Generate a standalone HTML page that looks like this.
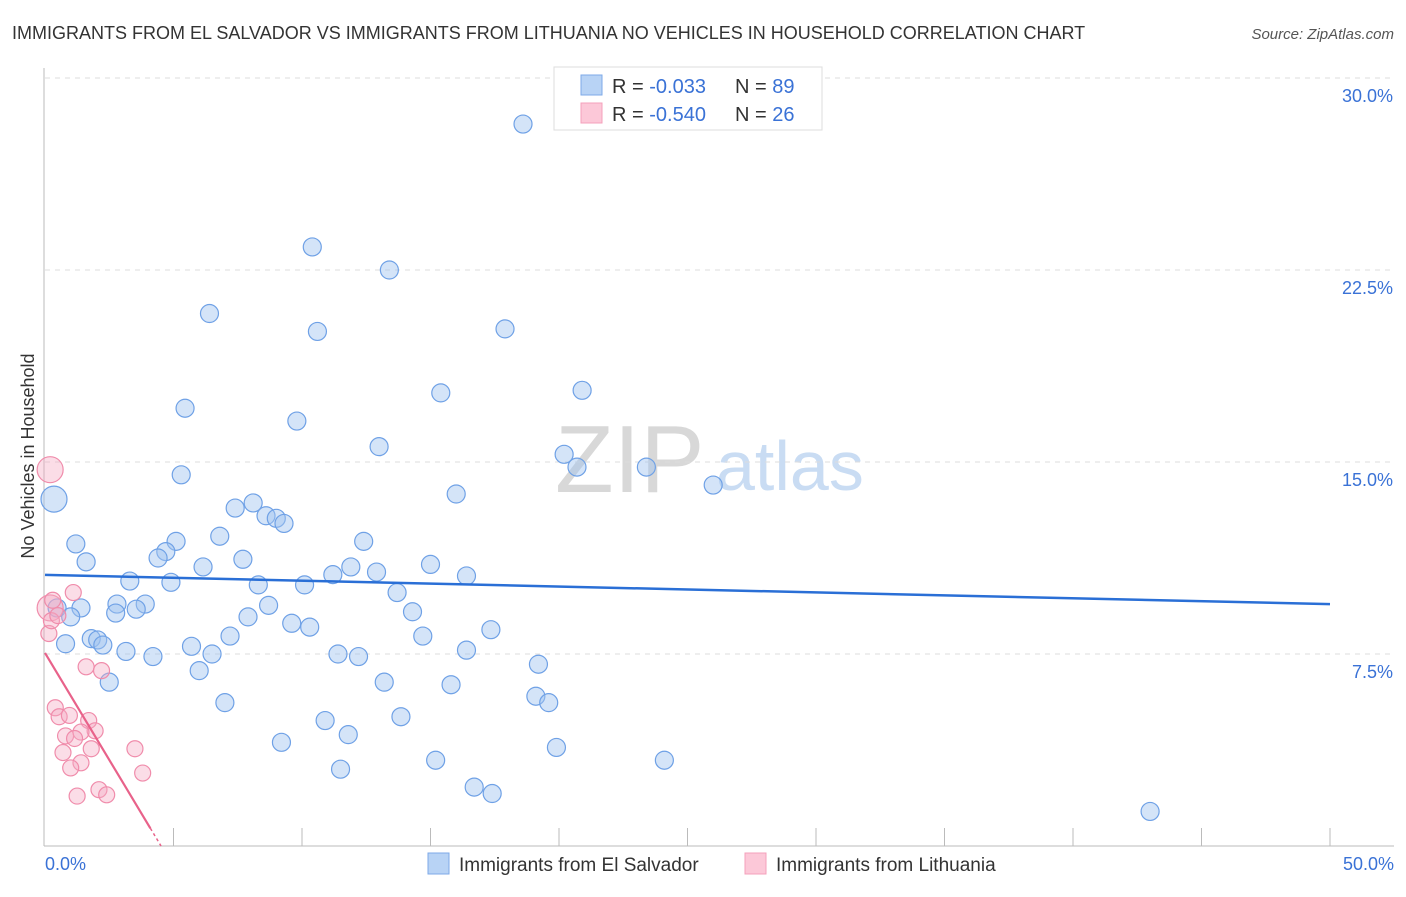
<!DOCTYPE html>
<html><head><meta charset="utf-8"><style>
body{margin:0;background:#fff;font-family:"Liberation Sans",sans-serif}
svg text{font-family:"Liberation Sans",sans-serif}
</style></head><body>
<svg id="chart" width="1406" height="892">
<text x="12" y="39" font-size="18" fill="#333">IMMIGRANTS FROM EL SALVADOR VS IMMIGRANTS FROM LITHUANIA NO VEHICLES IN HOUSEHOLD CORRELATION CHART</text>
<text x="1394" y="39" font-size="15" fill="#555" font-style="italic" text-anchor="end">Source: ZipAtlas.com</text>
<text transform="translate(34,456) rotate(-90)" font-size="18" fill="#333" text-anchor="middle">No Vehicles in Household</text>
<text x="555" y="492" font-size="96" fill="#d8d8d8" font-family="Liberation Serif">ZIP</text>
<text x="716" y="490" font-size="70" fill="#c9dcf3">atlas</text>
<g id="grid"></g><g id="axes"></g><g id="pts"></g><g id="lines"></g>
<g>
<rect x="554" y="67" width="268" height="63" fill="#fff" stroke="#ddd"/>
<rect x="581" y="75" width="21" height="20" fill="#b8d3f5" stroke="#7eaae8"/>
<rect x="581" y="103" width="21" height="20" fill="#fcc8d8" stroke="#f4a0bb"/>
<text x="612" y="93" font-size="20" fill="#333">R = <tspan fill="#3a72d6">-0.033</tspan><tspan x="735">N = </tspan><tspan fill="#3a72d6">89</tspan></text>
<text x="612" y="121" font-size="20" fill="#333">R = <tspan fill="#3a72d6">-0.540</tspan><tspan x="735">N = </tspan><tspan fill="#3a72d6">26</tspan></text>
</g>
<g>
<rect x="428" y="853" width="21" height="21" fill="#b8d3f5" stroke="#7eaae8"/>
<text x="459" y="871" font-size="19" fill="#333">Immigrants from El Salvador</text>
<rect x="745" y="853" width="21" height="21" fill="#fcc8d8" stroke="#f4a0bb"/>
<text x="776" y="871" font-size="19" fill="#333">Immigrants from Lithuania</text>
</g>
</svg>
<script>
const blueX=[18.6,10.4,13.4,6.4,10.6,17.9,15.4,20.9,5.45,9.8,13.0,20.2,20.7,23.4,5.3,26.0,16.0,0.35,8.1,7.4,8.6,9.0,9.3,6.8,1.2,5.1,12.4,4.7,4.4,1.6,7.7,6.15,15.0,11.9,12.9,11.2,16.4,3.3,4.9,8.3,10.1,13.7,0.47,1.4,2.8,3.9,3.55,2.75,8.7,14.3,1.0,7.9,9.6,10.3,17.35,7.2,14.7,1.8,2.05,0.8,2.25,3.15,5.7,6.5,4.2,11.4,12.2,16.4,19.2,6.0,2.5,13.2,15.8,19.1,19.6,7.0,13.85,10.9,11.8,9.2,19.9,15.2,24.1,11.5,16.7,17.4,43.0];
const blueY=[28.2,23.4,22.5,20.8,20.1,20.2,17.7,17.8,17.1,16.6,15.6,15.3,14.8,14.8,14.5,14.1,13.75,13.55,13.4,13.2,12.9,12.8,12.6,12.1,11.8,11.9,11.9,11.5,11.25,11.1,11.2,10.9,11.0,10.9,10.7,10.6,10.55,10.35,10.3,10.2,10.2,9.9,9.3,9.3,9.45,9.45,9.25,9.1,9.4,9.15,8.95,8.95,8.7,8.55,8.45,8.2,8.2,8.1,8.05,7.9,7.85,7.6,7.8,7.5,7.4,7.5,7.4,7.65,7.1,6.85,6.4,6.4,6.3,5.85,5.6,5.6,5.05,4.9,4.35,4.05,3.85,3.35,3.35,3.0,2.3,2.05,1.35];
const pinkX=[0.2,0.2,1.1,0.15,1.6,2.2,0.4,0.55,0.95,1.7,1.95,1.4,0.8,1.15,1.8,0.7,3.5,1.4,1.0,3.8,2.1,2.4,1.25,0.3,0.25,0.5];
const pinkY=[14.7,9.3,9.9,8.3,7.0,6.85,5.4,5.05,5.1,4.9,4.5,4.45,4.3,4.2,3.8,3.65,3.8,3.25,3.05,2.85,2.2,2.0,1.95,9.6,8.8,9.0];
const blueLine=[10.59,-0.0228];
const pinkLine=[7.54,-1.67];
const xTickLabels=["0.0%","50.0%"];
const yTicks=[7.5,15,22.5,30];
const yTickLabels=["7.5%","15.0%","22.5%","30.0%"];
const X=v=>45+v*25.7, Y=v=>846-v*25.6;
const NS="http://www.w3.org/2000/svg";
function mk(tag,parent,attrs){const e=document.createElementNS(NS,tag);for(const k in attrs)e.setAttribute(k,attrs[k]);document.getElementById(parent).appendChild(e);return e;}
yTicks.forEach((t,i)=>{
 const l=mk('line','grid',{x1:45,x2:1394,y1:Y(t),y2:Y(t),stroke:'#ddd','stroke-dasharray':'5,5'});
 
 
 const tx=mk('text','grid',{x:1393,y:Y(t)+24,'font-size':18,fill:'#3a72d6','text-anchor':'end'});
 tx.textContent=yTickLabels[i];
 
 
});
let a=mk('line','axes',{x1:44,x2:44,y1:68,y2:846,stroke:'#bbb'});


a=mk('line','axes',{x1:44,x2:1394,y1:846,y2:846,stroke:'#bbb'});


for(let i=1;i<=10;i++){const t=mk('line','axes',{x1:X(i*5),x2:X(i*5),y1:828,y2:846,stroke:'#bbb'});
 
 }
[0,50].forEach((v,i)=>{const t=mk('text','axes',{x:i?1394:45,y:870,'font-size':18,fill:'#3a72d6','text-anchor':i?'end':'start'});
 t.textContent=xTickLabels[i];
 
 });
blueX.forEach((x,i)=>{const c=mk('circle','pts',{cx:X(x),cy:Y(blueY[i]),r:(i==17?13:9),fill:'rgba(160,196,240,0.45)',stroke:'#6fa1e6','stroke-width':1.2});
 
 });
pinkX.forEach((x,i)=>{const c=mk('circle','pts',{cx:X(x),cy:Y(pinkY[i]),r:(i<2?13:8),fill:'rgba(245,170,195,0.4)',stroke:'#f08cab','stroke-width':1.2});
 
 });
let ln=mk('line','lines',{x1:X(0),y1:Y(blueLine[0]),x2:X(50),y2:Y(blueLine[0]+blueLine[1]*50),stroke:'#2a6fd6','stroke-width':2.5});


const xe=4.1;
ln=mk('line','lines',{x1:X(0),y1:Y(pinkLine[0]),x2:X(xe),y2:Y(pinkLine[0]+pinkLine[1]*xe),stroke:'#e8628a','stroke-width':2.2});


const xz=-pinkLine[0]/pinkLine[1];
ln=mk('line','lines',{x1:X(xe),y1:Y(pinkLine[0]+pinkLine[1]*xe),x2:X(xz),y2:Y(0),stroke:'#e8628a','stroke-width':1.5,'stroke-dasharray':'3,3'});


</script>
</body></html>
